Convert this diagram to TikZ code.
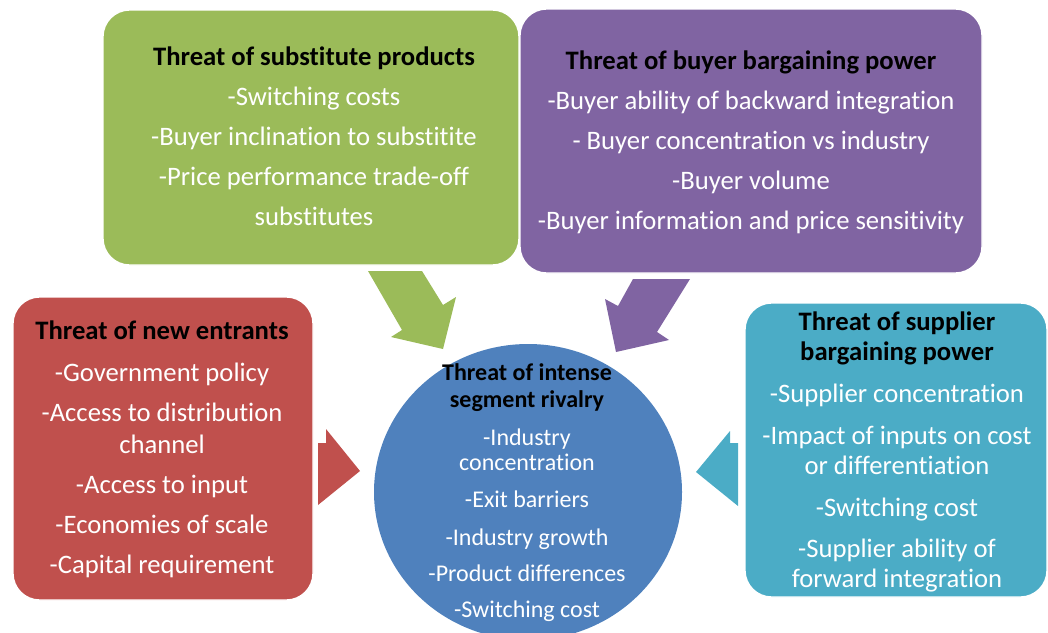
\documentclass[tikz,border=0pt]{standalone}
\usepackage{fontspec}
\setmainfont{Carlito}[Ligatures=NoCommon]
\usepackage{tikz}
\usetikzlibrary{positioning}

\definecolor{subgreen}{HTML}{9BBB59}
\definecolor{buyerpurple}{HTML}{8064A2}
\definecolor{entrantred}{HTML}{C0504D}
\definecolor{supplierteal}{HTML}{4BACC6}
\definecolor{rivalblue}{HTML}{4F81BD}

\tikzset{
  forcebox/.style={draw=white, line width=1pt, rounded corners=20pt},
  forcetext/.style={align=center, text=white, anchor=base},
}
\newcommand{\forcetitle}[1]{\textcolor{black}{\textbf{#1}}}

\begin{document}
\begin{tikzpicture}[x=0.75pt,y=0.75pt,yscale=-1,xscale=1]

\useasboundingbox (0,0) rectangle (1048,632);

% Block Arrows
\fill [subgreen]     (368,271) -- (422,271) -- (443,305) -- (456,297) -- (443,349) -- (391,337) -- (402,330) -- cycle ;
\fill [buyerpurple]  (690,279) -- (633,279) -- (618,306) -- (605,299) -- (616,352) -- (669,340) -- (657,332) -- cycle ;
\fill [entrantred]   (318,443) -- (326,443) -- (326,429) -- (360,471) -- (318,505) -- cycle ;
\fill [supplierteal] (696,472) -- (730,431) -- (730,443) -- (738,443) -- (738,506) -- cycle ;

% Boxes
\draw [forcebox, fill=subgreen]     (103,10)  rectangle (519,265) ;
\draw [forcebox, fill=buyerpurple]  (520,9)   rectangle (982,273) ;
\draw [forcebox, fill=entrantred]   (13,297)  rectangle (313,600) ;
\draw [forcebox, fill=supplierteal] (745,303) rectangle (1047,597) ;

% Centre Circle
\fill [rivalblue] (528,492) ellipse [x radius=154, y radius=148] ;

% Box Texts (placed by the baseline of their last line)
\node [forcetext, font=\fontsize{20}{30}\selectfont] (substitutes) at (314,225) {%
  \forcetitle{Threat of substitute products}\\
  -Switching costs\\
  -Buyer inclination to substitite\\
  -Price performance trade-off\\
  substitutes};

\node [forcetext, font=\fontsize{20}{30}\selectfont] (buyers) at (751,229) {%
  \forcetitle{Threat of buyer bargaining power}\\
  -Buyer ability of backward integration\\
  - Buyer concentration vs industry\\
  -Buyer volume\\
  -Buyer information and price sensitivity};

\node [forcetext, font=\fontsize{20}{24}\selectfont] (entrants) at (162,573) {%
  \forcetitle{Threat of new entrants}\\[7pt]
  -Government policy\\[6pt]
  -Access to distribution\\
  channel\\[6pt]
  -Access to input\\[6pt]
  -Economies of scale\\[6pt]
  -Capital requirement};

\node [forcetext, font=\fontsize{20}{22.5}\selectfont] (suppliers) at (897,587) {%
  \forcetitle{Threat of supplier}\\
  \forcetitle{bargaining power}\\[9pt]
  -Supplier concentration\\[9pt]
  -Impact of inputs on cost\\
  or differentiation\\[9pt]
  -Switching cost\\[8pt]
  -Supplier ability of\\
  forward integration};

\node [forcetext, font=\fontsize{18}{19}\selectfont] (rivalry) at (527,617) {%
  \forcetitle{Threat of intense}\\[1pt]
  \forcetitle{segment rivalry}\\[9.5pt]
  -Industry\\
  concentration\\[9pt]
  -Exit barriers\\[9pt]
  -Industry growth\\[8pt]
  -Product differences\\[8pt]
  -Switching cost};

\end{tikzpicture}
\end{document}
